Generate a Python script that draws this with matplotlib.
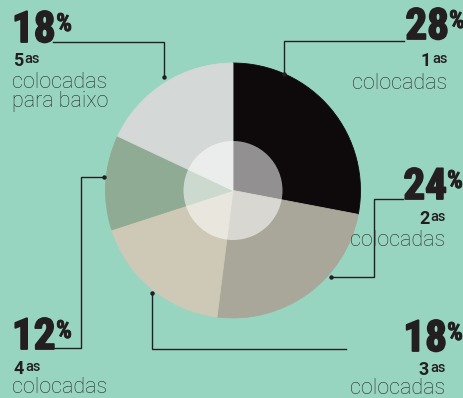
import matplotlib
matplotlib.use('Agg')
import matplotlib.pyplot as plt
from matplotlib import font_manager
import matplotlib.patheffects as pe
from matplotlib.patches import Circle

# data
shares = [28, 24, 18, 12, 18]
ranks = ['1', '2', '3', '4', '5']
captions = ['colocadas', 'colocadas', 'colocadas', 'colocadas', 'colocadas\npara baixo']
colors = ['#0e0a0b', '#a9a79a', '#cdc9b6', '#8fab93', '#d4d8d7']

BG = '#98d5c0'
INK = '#231f20'
W, H = 464, 398
TXTFONT = ['Roboto', 'DejaVu Sans']

# pick a narrow bold face for the big numbers if one is installed
names = {f.name for f in font_manager.fontManager.ttflist}
NUMFONT = None
for cand in ['Roboto Condensed', 'Liberation Sans Narrow', 'Open Sans Condensed',
             'Noto Sans Condensed', 'DejaVu Sans Condensed']:
    if cand in names:
        NUMFONT = cand
        break
NUMSTRETCH = 'normal'
if NUMFONT is None:
    NUMFONT = 'DejaVu Sans'
    NUMSTRETCH = 'condensed'
thick = [pe.withStroke(linewidth=1.3, foreground=INK)]

fig = plt.figure(figsize=(W / 100, H / 100), dpi=100, facecolor=BG)
ax = fig.add_axes([0, 0, 1, 1])
ax.set_facecolor(BG)

cx, cy, r = 233, H - 190.5, 127.5
wedges, _ = ax.pie(shares, colors=colors, startangle=90, counterclock=False,
                   radius=r, center=(cx, cy), wedgeprops=dict(linewidth=0.6))
for w, c in zip(wedges, colors):
    w.set_edgecolor(c)
ax.add_patch(Circle((cx, cy), 49.5, facecolor='white', alpha=0.55, linewidth=0))

ax.set_xlim(0, W)
ax.set_ylim(0, H)
ax.set_aspect('auto')
ax.axis('off')


def Y(p):
    return H - p


# leader lines (pixel coords from the top), last point gets a dot
leaders = [
    [(404, 41), (284, 41), (284, 74)],
    [(403, 199), (374, 199), (374, 277), (331, 277)],
    [(346, 349), (152, 349), (152, 293)],
    [(52, 348), (81, 348), (81, 177), (104, 177)],
    [(53, 42), (164, 42), (164, 77)],
]
for pts in leaders:
    xs = [p[0] for p in pts]
    ys = [Y(p[1]) for p in pts]
    ax.plot(xs, ys, color=INK, lw=1.0, solid_joinstyle='miter')
    ax.plot(xs[-1], ys[-1], 'o', color=INK, ms=2.2)

# label layout: x, number baseline, ordinal baseline, caption baseline, side
anchors = [
    (449, 39, 66, 89, 'right'),
    (447, 199, 224, 246, 'right'),
    (447, 351, 375, 394, 'right'),
    (12, 349, 374, 393, 'left'),
    (12, 42, 66, 88, 'left'),
]

fig.canvas.draw()
rend = fig.canvas.get_renderer()
inv = ax.transData.inverted()

for i, (x, base, ob, cap_base, side) in enumerate(anchors):
    num = ax.text(x, Y(base), str(shares[i]), ha=side, va='baseline',
                  fontsize=31, fontweight='heavy', family=NUMFONT,
                  fontstretch=NUMSTRETCH, color=INK, path_effects=thick)
    bb = num.get_window_extent(rend)
    x1 = inv.transform((bb.x1, bb.y1))[0]
    if side == 'right':
        px = x
    else:
        px = x1 + 0.5
    ax.text(px, Y(base) + 30, '%', ha='left', va='top',
            fontsize=18, fontweight='heavy', family=NUMFONT,
            fontstretch=NUMSTRETCH, color=INK,
            path_effects=[pe.withStroke(linewidth=0.6, foreground=INK)])

    # ordinal "Nas" and caption
    if side == 'right':
        sup = ax.text(x - 1, Y(ob) + 14, 'as', ha='right', va='top',
                      fontsize=10.5, fontweight='medium', family=TXTFONT, color=INK)
        sb = sup.get_window_extent(rend)
        sx0 = inv.transform((sb.x0, sb.y0))[0]
        ax.text(sx0 - 1.5, Y(ob), ranks[i], ha='right', va='baseline',
                fontsize=13, fontweight='bold', family=TXTFONT, color=INK)
        ax.text(x - 2, Y(cap_base), captions[i], ha='right', va='baseline',
                fontsize=15.5, fontweight='light', family=TXTFONT, color='#2b2b2b')
    else:
        rk = ax.text(x + 1, Y(ob), ranks[i], ha='left', va='baseline',
                     fontsize=13, fontweight='bold', family=TXTFONT, color=INK)
        rb = rk.get_window_extent(rend)
        rx1 = inv.transform((rb.x1, rb.y1))[0]
        ax.text(rx1 + 1.5, Y(ob) + 14, 'as', ha='left', va='top',
                fontsize=10.5, fontweight='medium', family=TXTFONT, color=INK)
        lines = captions[i].split('\n')
        for k, line in enumerate(lines):
            ax.text(x, Y(cap_base + 19 * k), line, ha='left', va='baseline',
                    fontsize=15.5, fontweight='light', family=TXTFONT, color='#2b2b2b')

fig.savefig('out.png', dpi=100, facecolor=BG)
